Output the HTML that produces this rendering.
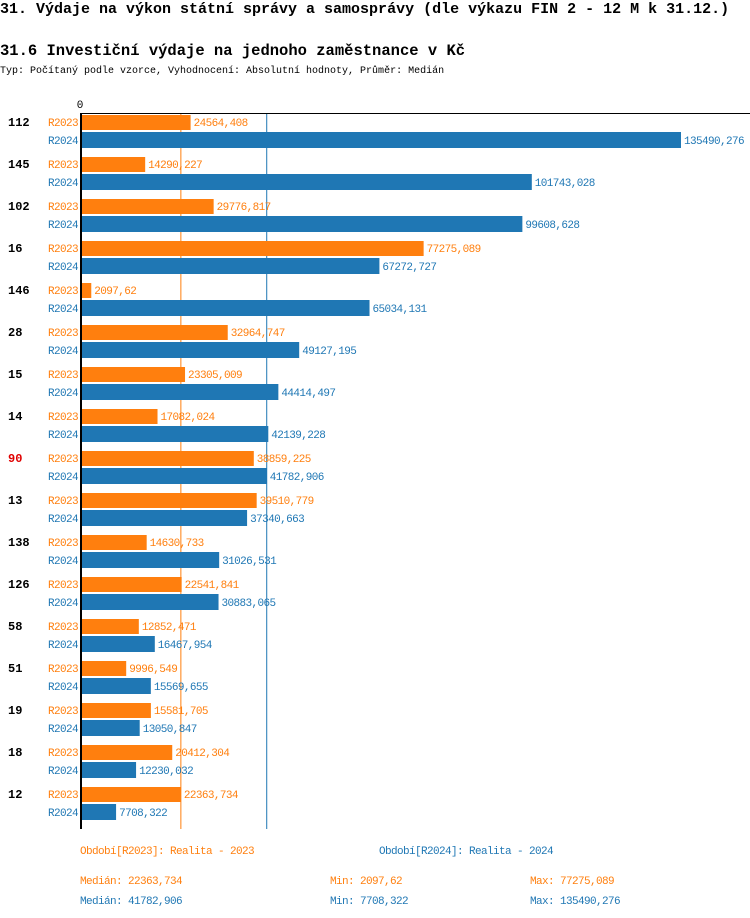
<!DOCTYPE html>
<html><head><meta charset="utf-8">
<style>
html,body{margin:0;padding:0;background:#fff;}
body{width:750px;height:918px;overflow:hidden;position:relative;font-family:"Liberation Mono",monospace;}
.t{position:absolute;left:0;white-space:nowrap;}
</style></head><body>
<div class="t" style="top:1px;font-size:15px;font-weight:bold;">31. Výdaje na výkon státní správy a samosprávy (dle výkazu FIN 2 - 12 M k 31.12.)</div>
<div class="t" style="top:42px;font-size:15.5px;font-weight:bold;">31.6 Investiční výdaje na jednoho zaměstnance v Kč</div>
<div class="t" style="top:66px;font-size:10px;">Typ: Počítaný podle vzorce, Vyhodnocení: Absolutní hodnoty, Průměr: Medián</div>
<svg id="chart" width="750" height="918" style="position:absolute;left:0;top:0;" xmlns="http://www.w3.org/2000/svg"></svg>
<script>
const categories=["112","145","102","16","146","28","15","14","90","13","138","126","58","51","19","18","12"];
const values2023=[24564.408,14290.227,29776.817,77275.089,2097.62,32964.747,23305.009,17082.024,38859.225,39510.779,14630.733,22541.841,12852.471,9996.549,15581.705,20412.304,22363.734];
const values2024=[135490.276,101743.028,99608.628,67272.727,65034.131,49127.195,44414.497,42139.228,41782.906,37340.663,31026.531,30883.065,16467.954,15569.655,13050.847,12230.032,7708.322];
const labels2023=["24564,408","14290,227","29776,817","77275,089","2097,62","32964,747","23305,009","17082,024","38859,225","39510,779","14630,733","22541,841","12852,471","9996,549","15581,705","20412,304","22363,734"];
const labels2024=["135490,276","101743,028","99608,628","67272,727","65034,131","49127,195","44414,497","42139,228","41782,906","37340,663","31026,531","30883,065","16467,954","15569,655","13050,847","12230,032","7708,322"];
const median2023=22363.734, median2024=41782.906;
const highlight="90";
const O="#ff7f0e",B="#1f77b4";
const svg=document.getElementById('chart');
const NS="http://www.w3.org/2000/svg";
const x0=82, k=599/135490.276;
function xs(v){return x0+v*k;}
function yRow(i){return 115+i*42;}
function mk(tag,attrs,txt){const e=document.createElementNS(NS,tag);for(const a in attrs)e.setAttribute(a,attrs[a]);if(txt!==undefined)e.textContent=txt;svg.appendChild(e);return e;}
const font='"Liberation Mono",monospace';
let e;
e=mk('line',{x1:xs(median2023),x2:xs(median2023),y1:113,y2:829,stroke:O,'stroke-width':1});


e=mk('line',{x1:xs(median2024),x2:xs(median2024),y1:113,y2:829,stroke:B,'stroke-width':1});


e=mk('line',{x1:80,x2:750,y1:113.5,y2:113.5,stroke:'#000','stroke-width':1});


e=mk('text',{x:80,y:108,'font-family':font,'font-size':11,'text-anchor':'middle'},'0');


categories.forEach((c,i)=>{
  const y=yRow(i);
  e=mk('text',{x:8,y:y+11,'font-family':font,'font-size':12,'font-weight':'bold',fill:c===highlight?'#e00000':'#000'},c);
  
  
  e=mk('text',{x:78,y:y+11,'font-family':font,'font-size':11,'text-anchor':'end',fill:O,'letter-spacing':-0.6},'R2023');
  
  
  e=mk('text',{x:78,y:y+29,'font-family':font,'font-size':11,'text-anchor':'end',fill:B,'letter-spacing':-0.6},'R2024');
  
  
  e=mk('rect',{x:x0,y:y,width:xs(values2023[i])-x0,height:15,fill:O});
  
  
  e=mk('rect',{x:x0,y:y+17,width:xs(values2024[i])-x0,height:16,fill:B});
  
  
  e=mk('text',{x:xs(values2023[i])+3,y:y+11,'font-family':font,'font-size':11,fill:O,'letter-spacing':-0.6},labels2023[i]);
  
  
  e=mk('text',{x:xs(values2024[i])+3,y:y+29,'font-family':font,'font-size':11,fill:B,'letter-spacing':-0.6},labels2024[i]);
  
  
});
e=mk('line',{x1:81,x2:81,y1:113,y2:829,stroke:'#000','stroke-width':2});


const foot=[
 [80,854,O,'Období[R2023]: Realita - 2023','legend-entry-2023'],
 [379,854,B,'Období[R2024]: Realita - 2024','legend-entry-2024'],
 [80,884,O,'Medián: 22363,734','median-2023'],
 [330,884,O,'Min: 2097,62','min-2023'],
 [530,884,O,'Max: 77275,089','max-2023'],
 [80,904,B,'Medián: 41782,906','median-2024'],
 [330,904,B,'Min: 7708,322','min-2024'],
 [530,904,B,'Max: 135490,276','max-2024']];
foot.forEach(f=>{
  e=mk('text',{x:f[0],y:f[1],'font-family':font,'font-size':11,fill:f[2],'letter-spacing':-0.6},f[3]);
  
  
});
</script>
</body></html>
